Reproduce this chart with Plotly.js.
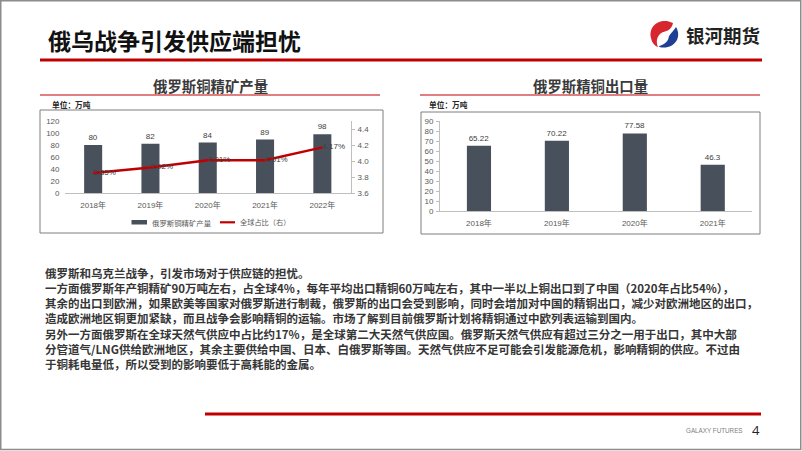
<!DOCTYPE html>
<html>
<head>
<meta charset="utf-8">
<script src="https://cdn.plot.ly/plotly-3.0.1.min.js"></script>
<style>
html,body{margin:0;padding:0;background:#fff;}
#chart{width:802px;height:451px;}
</style>
</head>
<body>
<div id="chart"></div>
<script>
// ---- data ----
const years5 = ['2018年','2019年','2020年','2021年','2022年'];
const oreOutput = [80, 82, 84, 89, 98];            // 万吨
const globalShare = [3.85, 3.92, 4.01, 4.01, 4.17]; // %
const shareTicks = [3.6, 3.8, 4.0, 4.2, 4.4];
const years4 = ['2018年','2019年','2020年','2021年'];
const refinedExports = [65.22, 70.22, 77.58, 46.3]; // 万吨

const slideTitle = '俄乌战争引发供应端担忧';
const brandName = '银河期货';
const chart1Title = '俄罗斯铜精矿产量';
const chart2Title = '俄罗斯精铜出口量';
const unitLabel = '单位：万吨';
const legendBar = '俄罗斯铜精矿产量';
const legendLine = '全球占比（右）';
const bodyLines = [
  '俄罗斯和乌克兰战争，引发市场对于供应链的担忧。',
  '一方面俄罗斯年产铜精矿90万吨左右，占全球4%，每年平均出口精铜60万吨左右，其中一半以上铜出口到了中国（2020年占比54%），',
  '其余的出口到欧洲，如果欧美等国家对俄罗斯进行制裁，俄罗斯的出口会受到影响，同时会增加对中国的精铜出口，减少对欧洲地区的出口，',
  '造成欧洲地区铜更加紧缺，而且战争会影响精铜的运输。市场了解到目前俄罗斯计划将精铜通过中欧列表运输到国内。',
  '另外一方面俄罗斯在全球天然气供应中占比约17%，是全球第二大天然气供应国。俄罗斯天然气供应有超过三分之一用于出口，其中大部',
  '分管道气/LNG供给欧洲地区，其余主要供给中国、日本、白俄罗斯等国。天然气供应不足可能会引发能源危机，影响精铜的供应。不过由',
  '于铜耗电量低，所以受到的影响要低于高耗能的金属。'
];
const paragraphs = [[0], [1, 2, 3], [4, 5, 6]];
const footerBrand = 'GALAXY FUTURES';
const pageNumber = '4';

// ---- styling helpers ----
const W = 802, H = 451;
const BAR = '#48505c', RED = '#c00000', AX = '#bfbfbf', TICK = '#595959';
const CJK = '"Noto Sans CJK SC", "Noto Sans", sans-serif';
const NUM = '"Liberation Sans", Arial, "Noto Sans CJK SC", sans-serif';
const px = v => v / W;
const py = v => 1 - v / H;

const traces = [
  {
    type: 'bar', x: years5, y: oreOutput, xaxis: 'x', yaxis: 'y',
    marker: {color: BAR}, width: 0.315,
    text: oreOutput.map(String), textposition: 'outside', cliponaxis: false,
    textfont: {family: NUM, size: 8, color: '#404040'},
    hoverinfo: 'skip', showlegend: false
  },
  {
    type: 'scatter', mode: 'lines+text', x: years5, y: globalShare, xaxis: 'x', yaxis: 'y2',
    line: {color: RED, width: 2.5},
    text: globalShare.map(v => v.toFixed(2) + '%'), textposition: 'middle right', cliponaxis: false,
    textfont: {family: NUM, size: 8, color: '#404040'},
    hoverinfo: 'skip', showlegend: false
  },
  {
    type: 'bar', x: years4, y: refinedExports, xaxis: 'x2', yaxis: 'y3',
    marker: {color: BAR}, width: 0.31,
    text: refinedExports.map(String), textposition: 'outside', cliponaxis: false,
    textfont: {family: NUM, size: 8, color: '#404040'},
    hoverinfo: 'skip', showlegend: false
  },
  {type: 'scatter', x: [], y: [], xaxis: 'x3', yaxis: 'y4', showlegend: false, hoverinfo: 'skip'}
];

const tickFont = {family: NUM, size: 8, color: TICK};

const layout = {
  width: W, height: H,
  margin: {l: 0, r: 0, t: 0, b: 0, pad: 0},
  paper_bgcolor: '#ffffff', plot_bgcolor: 'rgba(0,0,0,0)',
  showlegend: false,
  xaxis: {
    domain: [px(64.5), px(351)], anchor: 'y', type: 'category',
    showline: true, linecolor: AX, linewidth: 1, ticks: '', showgrid: false, zeroline: false,
    tickfont: tickFont, ticklabelstandoff: 4, fixedrange: true
  },
  yaxis: {
    domain: [py(193), py(121)], anchor: 'x', range: [0, 120], dtick: 20,
    showline: false, ticks: '', showgrid: false, zeroline: false,
    tickfont: tickFont, ticklabelstandoff: 4, fixedrange: true
  },
  yaxis2: {
    overlaying: 'y', side: 'right', anchor: 'x', range: [3.6, 4.5],
    tickvals: shareTicks, tickformat: '.1f', ticksuffix: '%',
    showline: true, linecolor: AX, ticks: 'outside', ticklen: 3, tickcolor: AX,
    showgrid: false, zeroline: false, tickfont: tickFont, ticklabelstandoff: 1, fixedrange: true
  },
  xaxis2: {
    domain: [px(440), px(751.7)], anchor: 'y3', type: 'category',
    showline: true, linecolor: AX, linewidth: 1, ticks: '', showgrid: false, zeroline: false,
    tickfont: tickFont, ticklabelstandoff: 4, fixedrange: true
  },
  yaxis3: {
    domain: [py(211), py(121)], anchor: 'x2', range: [0, 90], dtick: 10,
    showline: true, linecolor: AX, ticks: 'outside', ticklen: 3, tickcolor: AX,
    showgrid: false, zeroline: false, tickfont: tickFont, ticklabelstandoff: 1, fixedrange: true
  },
  // pixel-space helper axes for slide decorations
  xaxis3: {domain: [0, 1], range: [0, W], anchor: 'y4', visible: false, fixedrange: true},
  yaxis4: {domain: [0, 1], range: [H, 0], anchor: 'x3', visible: false, fixedrange: true},
  shapes: [],
  annotations: []
};

const S = layout.shapes, A = layout.annotations;
const pxShape = o => Object.assign({xref: 'x3', yref: 'y4', layer: 'above'}, o);
const note = (text, x, y, o) => A.push(Object.assign({
  xref: 'x3', yref: 'y4', x: x, y: y, text: text, showarrow: false, align: 'left',
  xanchor: 'left', yanchor: 'middle', font: {family: CJK, size: 11.5, color: '#333333'}
}, o || {}));

// slide border
S.push(pxShape({type: 'rect', x0: 0.75, y0: 0.75, x1: 800.75, y1: 449.5, line: {color: '#8c8c8c', width: 1.5}}));
// title rule and footer rule
S.push(pxShape({type: 'line', x0: 40, y0: 60, x1: 762, y1: 60, line: {color: RED, width: 3}}));
S.push(pxShape({type: 'line', x0: 205, y0: 414, x1: 761, y1: 414, line: {color: RED, width: 3}}));
// chart title rules
S.push(pxShape({type: 'line', x0: 40, y0: 95, x1: 380, y1: 95, line: {color: RED, width: 1.2}}));
S.push(pxShape({type: 'line', x0: 420, y0: 95, x1: 760, y1: 95, line: {color: RED, width: 1.2}}));
// chart frames
S.push(pxShape({type: 'rect', x0: 40, y0: 110, x1: 383, y1: 233, line: {color: '#7f7f7f', width: 1}}));
S.push(pxShape({type: 'rect', x0: 421, y0: 112, x1: 760, y1: 234, line: {color: '#7f7f7f', width: 1}}));
// legend symbols (left chart)
S.push(pxShape({type: 'rect', x0: 131.5, y0: 220, x1: 147, y1: 224.5, fillcolor: BAR, line: {width: 0}}));
S.push(pxShape({type: 'line', x0: 220, y0: 222.3, x1: 235, y1: 222.3, line: {color: RED, width: 2.2}}));
// logo swirl
S.push(pxShape({type: 'path', path: 'M 673 23 C 661 17, 648 25, 651 38 C 652 43, 655 46, 658 47 C 655 40, 658 33, 665 31.5 C 669 30.5, 672 28, 673 23 Z', fillcolor: '#d7262e', line: {width: 0}}));
S.push(pxShape({type: 'path', path: 'M 676 27 C 682 37, 675 48, 663 47.5 C 661 47.5, 659.5 47, 658.5 46.5 C 663 45, 668 42, 668.5 38 C 669 34.5, 673 32, 676 27 Z', fillcolor: '#1f3f94', line: {width: 0}}));

// texts
note(slideTitle, 46, 39.5, {font: {family: CJK, size: 23, color: '#111111', weight: 'bold'}});
note(brandName, 684, 34.5, {font: {family: CJK, size: 18.5, color: '#222222', weight: 'bold'}});
note(chart1Title, 210.8, 85, {xanchor: 'center', font: {family: CJK, size: 14.4, color: '#3a3a3a', weight: 'bold'}});
note(chart2Title, 590.8, 85, {xanchor: 'center', font: {family: CJK, size: 14.4, color: '#3a3a3a', weight: 'bold'}});
note(unitLabel, 50, 104, {font: {family: CJK, size: 7.7, color: '#262626', weight: 'bold'}});
note(unitLabel, 426.7, 104, {font: {family: CJK, size: 7.7, color: '#262626', weight: 'bold'}});
note(legendBar, 149.5, 222.3, {font: {family: CJK, size: 7.4, color: TICK}});
note(legendLine, 238, 222.3, {font: {family: CJK, size: 7.2, color: TICK}});

// body paragraphs (one annotation per paragraph, lines kept as in the slide)
const paraCenterY = [272.5, 303, 348.6];
paragraphs.forEach((idx, i) => note(idx.map(k => bodyLines[k]).join('<br>'), 42.5, paraCenterY[i],
  {font: {family: CJK, size: 11.5, color: '#363636', weight: 'bold'}}));

note(footerBrand, 684, 430.7, {font: {family: NUM, size: 6.3, color: '#808080'}});
note(pageNumber, 756, 430, {xanchor: 'center', font: {family: '"Open Sans", sans-serif', size: 13, color: '#222222'}});

Plotly.newPlot('chart', traces, layout, {displayModeBar: false, staticPlot: true});
</script>
</body>
</html>
